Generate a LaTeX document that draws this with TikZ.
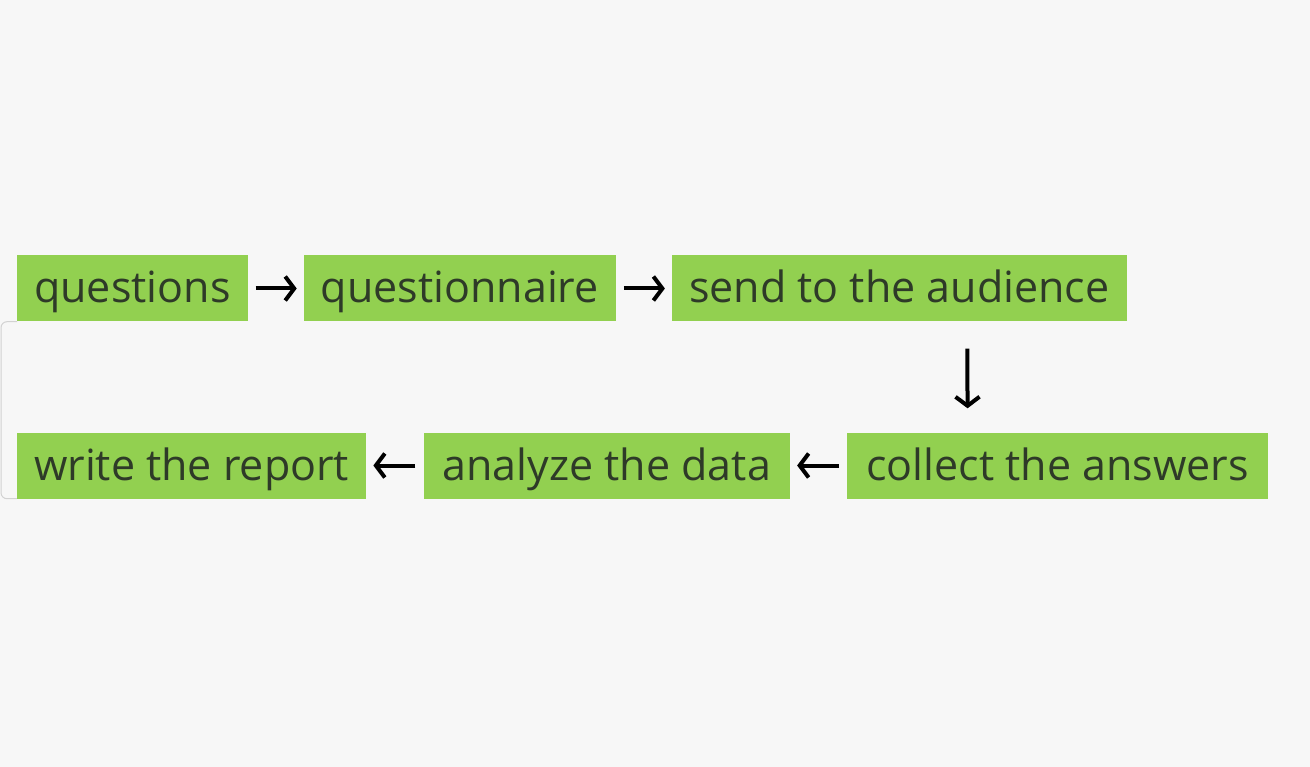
\documentclass[tikz,border=0pt]{standalone}
\usepackage{fontspec}
\setmainfont{Open Sans}
\usetikzlibrary{arrows.meta}
\usetikzlibrary{positioning}

\definecolor{boxgreen}{RGB}{146,208,80}
\definecolor{boxtext}{RGB}{46,58,40}
\definecolor{paper}{RGB}{247,247,247}

\begin{document}
\begin{tikzpicture}[x=1pt,y=-1pt,
	box/.style={fill=boxgreen,text=boxtext,inner xsep=17pt,inner ysep=0pt,
		minimum height=66pt,text height=32pt,text depth=3pt,
		font=\fontsize{43}{50}\selectfont},
	flow/.style={draw=black,line width=4pt,-{Straight Barb[length=9pt,width=24pt,line width=4pt]},
		shorten <=8pt,shorten >=7pt}]

	\fill[paper] (0,0) rectangle (1310,767);
	\useasboundingbox (0,0) rectangle (1310,767);

	% first row
	\node[box,anchor=west] (quest) at (17,288.5) {questions};
	\node[box,right=56pt of quest] (qnaire) {questionnaire};
	\node[box,right=56pt of qnaire] (send) {send to the audience};

	% second row
	\node[box,inner xsep=19pt,anchor=east] (collect) at (1268,465.5) {collect the answers};
	\node[box,inner xsep=19pt,left=57pt of collect] (analyze) {analyze the data};
	\node[box,inner xsep=17pt,left=57pt of analyze] (report) {write the report};

	% faint bracket on the left
	\draw[gray!35,line width=1pt,rounded corners=6pt]
	(quest.south west) -- ++(-16,0) |- (report.south west);

	\draw[flow] (quest) -- (qnaire);
	\draw[flow] (qnaire) -- (send);
	\draw[flow,shorten <=0pt,shorten >=0pt] ([xshift=68pt,yshift=-27pt]send.south) -- ([xshift=-90pt,yshift=24pt]collect.north);
	\draw[flow] (collect) -- (analyze);
	\draw[flow] (analyze) -- (report);
\end{tikzpicture}
\end{document}
